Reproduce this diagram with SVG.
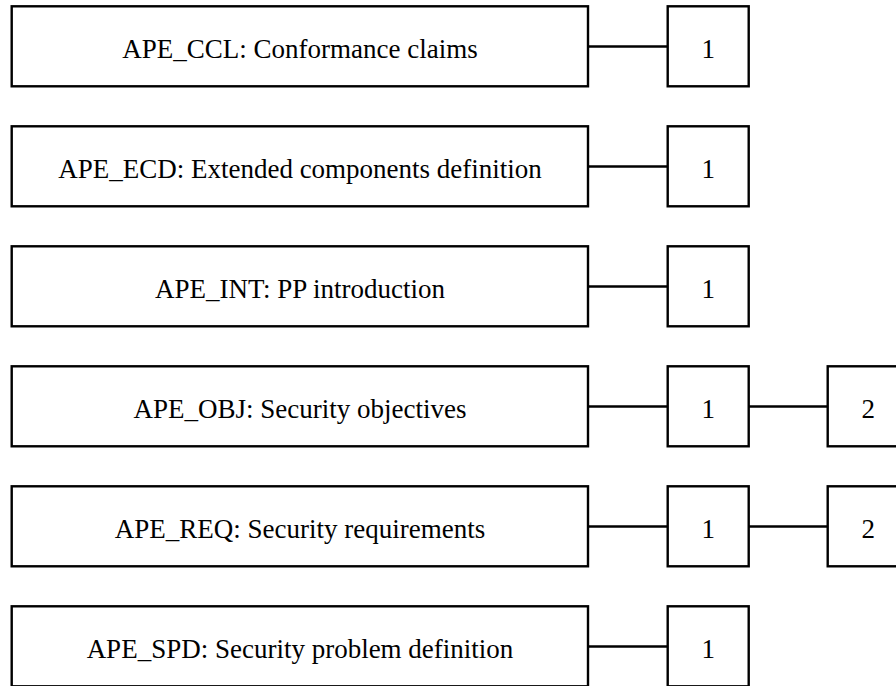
<svg xmlns="http://www.w3.org/2000/svg" width="896" height="686" viewBox="0 0 896 686">
<style>
rect{fill:#fff;stroke:#000;stroke-width:2.4}
line{stroke:#000;stroke-width:2.4}
text{font-family:"Liberation Serif","Times New Roman",serif;font-size:27px;fill:#000;text-anchor:middle}
</style>
<rect x="0" y="0" width="896" height="686" style="stroke:none"/>
<g id="connectors">
<line x1="588" y1="46.5" x2="667.7" y2="46.5"/>
<line x1="588" y1="166.5" x2="667.7" y2="166.5"/>
<line x1="588" y1="286.5" x2="667.7" y2="286.5"/>
<line x1="588" y1="406.5" x2="667.7" y2="406.5"/>
<line x1="748.7" y1="406.5" x2="827.7" y2="406.5"/>
<line x1="588" y1="526.5" x2="667.7" y2="526.5"/>
<line x1="748.7" y1="526.5" x2="827.7" y2="526.5"/>
<line x1="588" y1="646.5" x2="667.7" y2="646.5"/>
</g>
<g id="ape_ccl"><rect x="11.7" y="6.3" width="576.3" height="80"/><text x="300" y="58">APE_CCL: Conformance claims</text></g>
<g id="ape_ccl_1"><rect x="667.7" y="6.3" width="81" height="80"/><text x="708.2" y="58">1</text></g>
<g id="ape_ecd"><rect x="11.7" y="126.3" width="576.3" height="80"/><text x="300" y="178">APE_ECD: Extended components definition</text></g>
<g id="ape_ecd_1"><rect x="667.7" y="126.3" width="81" height="80"/><text x="708.2" y="178">1</text></g>
<g id="ape_int"><rect x="11.7" y="246.3" width="576.3" height="80"/><text x="300" y="298">APE_INT: PP introduction</text></g>
<g id="ape_int_1"><rect x="667.7" y="246.3" width="81" height="80"/><text x="708.2" y="298">1</text></g>
<g id="ape_obj"><rect x="11.7" y="366.3" width="576.3" height="80"/><text x="300" y="418">APE_OBJ: Security objectives</text></g>
<g id="ape_obj_1"><rect x="667.7" y="366.3" width="81" height="80"/><text x="708.2" y="418">1</text></g>
<g id="ape_obj_2"><rect x="827.7" y="366.3" width="81" height="80"/><text x="868.2" y="418">2</text></g>
<g id="ape_req"><rect x="11.7" y="486.3" width="576.3" height="80"/><text x="300" y="538">APE_REQ: Security requirements</text></g>
<g id="ape_req_1"><rect x="667.7" y="486.3" width="81" height="80"/><text x="708.2" y="538">1</text></g>
<g id="ape_req_2"><rect x="827.7" y="486.3" width="81" height="80"/><text x="868.2" y="538">2</text></g>
<g id="ape_spd"><rect x="11.7" y="606.3" width="576.3" height="80"/><text x="300" y="658">APE_SPD: Security problem definition</text></g>
<g id="ape_spd_1"><rect x="667.7" y="606.3" width="81" height="80"/><text x="708.2" y="658">1</text></g>
</svg>
